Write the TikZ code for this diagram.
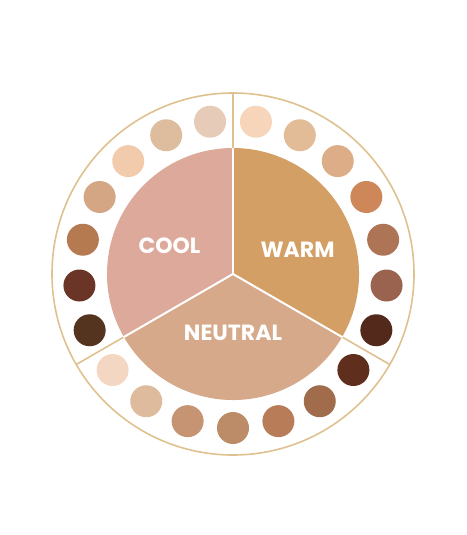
\documentclass[tikz,border=0pt]{standalone}
\usepackage{fontspec}
\usetikzlibrary{calc}
\newfontfamily\lblfont{Poppins}
\definecolor{ringc}{HTML}{DFC18F}
\definecolor{coolc}{HTML}{DDA99B}
\definecolor{warmc}{HTML}{D49F64}
\definecolor{neutc}{HTML}{D5A98A}
% warm dots
\definecolor{w0}{HTML}{F6D5BA}\definecolor{w1}{HTML}{E1BC97}\definecolor{w2}{HTML}{DCAD87}
\definecolor{w3}{HTML}{CE8759}\definecolor{w4}{HTML}{AD7455}\definecolor{w5}{HTML}{9A6350}
\definecolor{w6}{HTML}{52291B}
% neutral dots
\definecolor{n0}{HTML}{5F2E1C}\definecolor{n1}{HTML}{A06C4B}\definecolor{n2}{HTML}{B87C59}
\definecolor{n3}{HTML}{BB8C67}\definecolor{n4}{HTML}{C69472}\definecolor{n5}{HTML}{DDBB9C}
\definecolor{n6}{HTML}{F3D7C3}
% cool dots
\definecolor{c0}{HTML}{54331F}\definecolor{c1}{HTML}{6A3527}\definecolor{c2}{HTML}{B57A50}
\definecolor{c3}{HTML}{D4A684}\definecolor{c4}{HTML}{F1CBAB}\definecolor{c5}{HTML}{DEBD9E}
\definecolor{c6}{HTML}{E6CBB8}
\begin{document}
\begin{tikzpicture}[x=1pt,y=1pt,
  dotstyle/.style={circle,inner sep=0pt,minimum size=32pt},
  sepline/.style={draw=ringc,line width=1.6pt},
  pieline/.style={draw=white,line width=2pt},
  lbl/.style={text=white,font=\lblfont\bfseries\fontsize{22}{22}\selectfont,inner sep=0pt}]
% screen coordinates: (x, -y)
\useasboundingbox (0,0) rectangle (466,-535);
\coordinate (C) at (233,-274);
% outer ring
\draw[ringc,line width=1.6pt] (C) circle[radius=181];
% pie slices
\fill[warmc] (C) -- ++(-30:126) arc[start angle=-30,end angle=90,radius=126] -- cycle;
\fill[coolc] (C) -- ++(90:126) arc[start angle=90,end angle=210,radius=126] -- cycle;
\fill[neutc] (C) -- ++(210:126) arc[start angle=210,end angle=330,radius=126] -- cycle;
\foreach \a [count=\i] in {90,-30,210}{
  \coordinate (pin\i) at ($(C)+(\a:126.5)$);
  \coordinate (pout\i) at ($(C)+(\a:181)$);
  \draw[pieline] (C) -- (pin\i);
  \draw[sepline] (pin\i) -- (pout\i);
}
% dots
\foreach \k in {0,...,6}{
  \node[dotstyle,fill=w\k] (wd\k) at ($(C)+({90-8.571-\k*17.143}:154)$) {};
  \node[dotstyle,fill=n\k] (nd\k) at ($(C)+({-30-8.571-\k*17.143}:154)$) {};
  \node[dotstyle,fill=c\k] (cd\k) at ($(C)+({210-8.571-\k*17.143}:154)$) {};
}
% labels
\node[lbl] (cool) at (169.5,-245.5) {COOL};
\node[lbl] (warm) at (297.5,-249.5) {WARM};
\node[lbl] (neutral) at (233,-333) {NEUTRAL};
\end{tikzpicture}
\end{document}
